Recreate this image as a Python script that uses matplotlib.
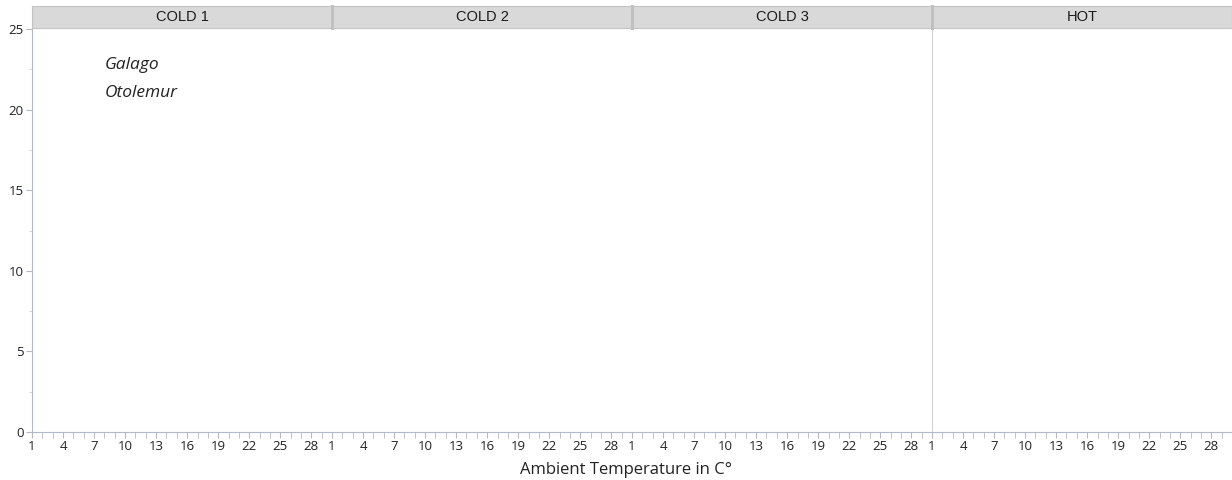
import matplotlib.pyplot as plt
import matplotlib.lines as mlines
import numpy as np

# facets and series (no observations recorded in any panel)
panels = ["COLD 1", "COLD 2", "COLD 3", "HOT"]
species = ["Galago", "Otolemur"]
galago_temp = {p: [] for p in panels}
galago_value = {p: [] for p in panels}
otolemur_temp = {p: [] for p in panels}
otolemur_value = {p: [] for p in panels}

x_major = list(range(1, 29, 3))
x_minor = list(range(1, 31))
y_major = [0, 5, 10, 15, 20, 25]

W, H = 1232, 480
fig = plt.figure(figsize=(W / 100, H / 100), dpi=100)

tick_font = "Open Sans"
axis_col = "#b4b8cc"
left_px, right_px = 32, 1232
top_px, bottom_px = 29, 432
panel_w = (right_px - left_px) / len(panels)

axes = []
for i, name in enumerate(panels):
    x0 = (left_px + i * panel_w) / W
    ax = fig.add_axes([x0, 1 - bottom_px / H, panel_w / W, (bottom_px - top_px) / H])
    ax.plot(galago_temp[name], galago_value[name], "o", color="#4c72b0")
    ax.plot(otolemur_temp[name], otolemur_value[name], "o", color="#dd8452")
    ax.set_xlim(1, 30)
    ax.set_ylim(0, 25)
    ax.set_xticks(x_major)
    ax.set_xticks(x_minor, minor=True)
    for s in ["top", "right"]:
        ax.spines[s].set_visible(False)
    ax.spines["bottom"].set_color(axis_col)
    ax.spines["left"].set_color(axis_col if i == 0 else "#d4d4d8")
    if i in (1, 2):
        ax.spines["left"].set_visible(False)
    ax.tick_params(axis="x", which="both", colors=axis_col, labelcolor="#222222",
                   labelsize=9.5, length=4, pad=2)
    if i == 0:
        ax.set_yticks(y_major)
        ax.set_yticks(np.arange(0, 25.1, 2.5), minor=True)
        ax.tick_params(axis="y", which="major", colors=axis_col, labelcolor="#222222",
                       labelsize=9.5, length=4, pad=2)
        ax.tick_params(axis="y", which="minor", colors="#d0d0d8", length=2)
    else:
        ax.set_yticks([])
    for lab in ax.get_xticklabels() + ax.get_yticklabels():
        lab.set_family(tick_font)
    axes.append(ax)

    # facet header strip
    sx = fig.add_axes([x0, 1 - 28 / H, panel_w / W, 22 / H])
    sx.set_facecolor("#d9d9d9")
    sx.set_xticks([])
    sx.set_yticks([])
    for s in sx.spines.values():
        s.set_color("#c4c4c4")
    sx.text(0.5, 0.5, name, ha="center", va="center", fontsize=10.5,
            family="Liberation Sans", color="#1a1a1a", transform=sx.transAxes)

# darker separators between header strips
for i in range(1, len(panels)):
    xx = (left_px + i * panel_w) / W
    fig.add_artist(mlines.Line2D([xx, xx], [1 - 28 / H, 1 - 6 / H], color="#c0c0c0", lw=2.2))

handles = [mlines.Line2D([], [], linestyle="none", marker="none") for _ in species]
leg = axes[0].legend(handles, species, loc="upper left", bbox_to_anchor=(0.19, 0.97),
                     frameon=False, handlelength=0, handletextpad=0, labelspacing=0.68,
                     prop={"family": tick_font, "style": "italic", "size": 12.5})
for t in leg.get_texts():
    t.set_color("#222222")

fig.text(626 / W, 1 - 470 / H, "Ambient Temperature in C°",
         ha="center", va="center", fontsize=12, family=tick_font, color="#222222")

fig.savefig("out.png", dpi=100)
